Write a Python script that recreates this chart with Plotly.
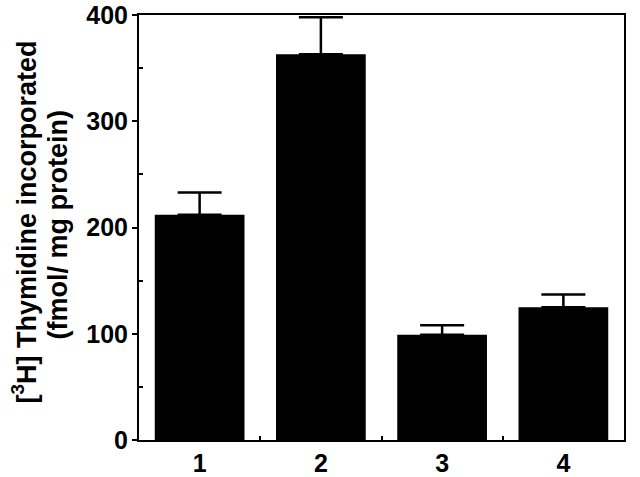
import plotly.graph_objects as go

groups = [1, 2, 3, 4]
thymidine = [212, 363, 99, 125]
sem = [21, 35, 9, 12]
y_ticks = [0, 100, 200, 300, 400]

fig = go.Figure()
fig.add_trace(go.Bar(
    x=groups,
    y=thymidine,
    width=0.74,
    marker=dict(color='black', line=dict(width=0)),
    error_y=dict(type='data', array=sem, arrayminus=[0] * len(sem), symmetric=False,
                 color='black', thickness=2.5, width=22),
))

font = dict(family='Liberation Sans, Arial, sans-serif', color='black', weight='bold')

fig.update_layout(
    width=640, height=477,
    margin=dict(l=139, r=16, t=15, b=37, autoexpand=False),
    plot_bgcolor='white', paper_bgcolor='white',
    showlegend=False,
    font=font,
    xaxis=dict(
        range=[0.5, 4.5], tickvals=groups, ticktext=[str(g) for g in groups],
        ticks='', showline=True, linecolor='black', linewidth=2, mirror=True,
        showgrid=False, zeroline=False, automargin=False, tickfont=dict(size=25, **font),
        minor=dict(tickvals=[1.5, 2.5, 3.5], ticks='inside', ticklen=4,
                   tickwidth=2, tickcolor='black'),
    ),
    yaxis=dict(
        range=[0, 400], tickvals=y_ticks, ticks='outside', ticklen=5, tickwidth=2,
        tickcolor='black', showline=True, linecolor='black', linewidth=2, mirror=True,
        showgrid=False, zeroline=False, automargin=False, tickfont=dict(size=25, **font),
        ticklabelstandoff=-1,
        minor=dict(tickvals=[50, 150, 250, 350], ticks='inside', ticklen=4,
                   tickwidth=2, tickcolor='black'),
    ),
    annotations=[
        dict(text='<b>[<sup>3</sup>H] Thymidine incorporated</b>', textangle=-90,
             xref='paper', yref='paper', x=0, y=0.5, xanchor='center', yanchor='middle',
             xshift=-115, yshift=5, showarrow=False, font=dict(size=27, **font)),
        dict(text='<b>(fmol/ mg protein)</b>', textangle=-90,
             xref='paper', yref='paper', x=0, y=0.5, xanchor='center', yanchor='middle',
             xshift=-82, yshift=2, showarrow=False, font=dict(size=27, **font)),
    ],
)

fig.write_html('out.html', config={'displayModeBar': False},
               post_script="document.body.style.margin='0';")
